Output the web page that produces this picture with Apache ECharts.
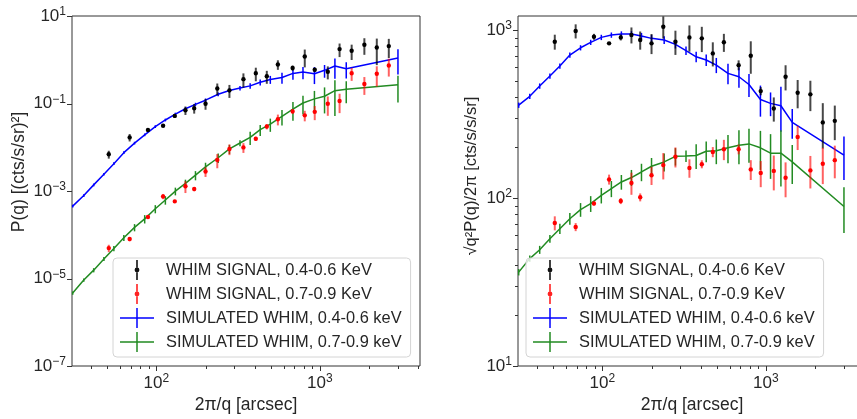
<!DOCTYPE html>
<html>
<head>
<meta charset="utf-8">
<script src="https://cdn.jsdelivr.net/npm/echarts/dist/echarts.min.js"></script>
<style>
  html, body { margin: 0; padding: 0; background: #fff; }
  #chart { width: 857px; height: 419px; }
</style>
</head>
<body>
<div id="chart"></div>
<script>
// angular scales 2pi/q [arcsec]
var simTheta = [30.8, 36, 41.4, 47.8, 55, 63.3, 73.6, 84.9, 98.6, 113.6, 130.8, 150.7, 173.6, 200, 239, 280, 325, 375, 432, 498, 587, 685, 789, 927, 1069, 1237, 1451, 3006];
var obsTheta = [51.2, 68.7, 88.9, 110, 129.7, 150.7, 170.5, 200, 236, 280, 341, 406, 474, 554, 682, 809, 931, 1119, 1321, 1566, 1873, 2231, 2642];

// left panel: P(q)
var blueP = [4.52e-4, 7.87e-4, 1.38e-3, 2.42e-3, 4.21e-3, 7.53e-3, 1.246e-2, 1.926e-2, 2.97e-2, 4.20e-2, 5.73e-2, 7.60e-2, 9.56e-2, 0.119, 0.1625, 0.198, 0.225, 0.253, 0.307, 0.354, 0.393, 0.488, 0.523, 0.479, 0.573, 0.718, 0.626, 1.095];
var blueErrP = [3.3e-5, 5.9e-5, 1.01e-4, 1.73e-4, 3.04e-4, 5.3e-4, 8.9e-4, 1.37e-3, 2.17e-3, 3.06e-3, 4.36e-3, 6.1e-3, 8.3e-3, 0.0112, 0.0168, 0.0222, 0.0262, 0.0365, 0.0482, 0.0733, 0.1096, 0.137, 0.163, 0.201, 0.185, 0.35, 0.253, 0.633];
var greenP = [4.65e-6, 9.22e-6, 1.552e-5, 2.80e-5, 4.87e-5, 8.50e-5, 1.474e-4, 2.31e-4, 3.92e-4, 6.24e-4, 9.94e-4, 1.489e-3, 2.30e-3, 3.57e-3, 5.75e-3, 9.19e-3, 1.252e-2, 1.686e-2, 2.52e-2, 3.38e-2, 5.11e-2, 7.45e-2, 0.1027, 0.1274, 0.1463, 0.196, 0.2118, 0.2678];
var greenErrP = [4.1e-7, 7.6e-7, 1.7e-6, 3.0e-6, 6.8e-6, 1.35e-5, 2.77e-5, 5.0e-5, 8.3e-5, 1.37e-4, 1.99e-4, 3.26e-4, 5.47e-4, 8.55e-4, 1.40e-3, 2.18e-3, 1.97e-3, 5.65e-3, 7.16e-3, 1.13e-2, 1.95e-2, 3.40e-2, 0.0469, 0.0666, 0.087, 0.144, 0.111, 0.1625];
var blackP = [6.9e-3, 1.68e-2, 2.47e-2, 3.1e-2, 5.2e-2, 7.0e-2, 7.8e-2, 9.9e-2, 0.22, 0.2, 0.36, 0.49, 0.42, 0.78, 0.65, 1.19, 0.59, 0.53, 1.75, 1.6, 2.2, 1.9, 2.05];
var blackErrP = [1.41e-3, 3.24e-3, 2.0e-3, 8e-4, 4.3e-3, 1.53e-2, 1.93e-2, 2.71e-2, 0.0664, 0.0658, 0.128, 0.168, 0.138, 0.192, 0.0884, 0.521, 0.0655, 0.174, 0.599, 0.613, 0.904, 1.146, 0.953];
var redP = [4.95e-5, 7.98e-5, 2.54e-4, 7.53e-4, 5.80e-4, 1.285e-3, 1.109e-3, 2.79e-3, 5.14e-3, 9.09e-3, 9.92e-3, 1.559e-2, 2.97e-2, 4.37e-2, 6.62e-2, 5.36e-2, 6.45e-2, 9.85e-2, 0.1138, 0.4896, 0.2798, 0.4768, 0.7366];
var redErrP = [9.5e-6, 8.8e-6, 1.37e-5, 1.03e-4, 4.8e-5, 3.87e-4, 1.21e-4, 6.95e-4, 1.83e-3, 2.48e-3, 2.50e-3, 1.70e-3, 4.1e-3, 1.21e-2, 8.8e-3, 1.45e-2, 2.29e-2, 4.62e-2, 0.0535, 0.161, 0.1226, 0.2324, 0.324];

// right panel: sqrt(q^2 P(q) / 2pi)
var blueR = [357, 403, 464, 532, 610, 709, 784, 845, 904, 933, 946, 946, 921, 892, 872, 822, 755, 693, 663, 618, 552, 527, 474, 386, 366, 354, 282, 180];
var blueErrR = [13, 15, 17, 19, 22, 25, 28, 30, 33, 34, 36, 38, 40, 42, 45, 46, 44, 50, 52, 64, 77, 74, 74, 81, 59, 106, 57, 52];
var greenR = [36.2, 43.6, 49.2, 57.2, 65.6, 75.3, 85.3, 92.6, 103.8, 113.7, 124.6, 132.4, 142.9, 154.5, 164, 177, 178, 179, 190, 191, 199, 206, 210, 199, 185, 185, 164, 89];
var greenErrR = [1.6, 1.8, 2.7, 3.1, 4.6, 6, 8, 10, 11, 12.5, 12.5, 14.5, 17, 18.5, 20, 21, 14, 30, 27, 32, 38, 47, 48, 52, 55, 68, 43, 27];
var blackR = [851, 986, 912, 833, 904, 934, 872, 833, 1047, 851, 904, 892, 726, 845, 618, 703, 433, 341, 527, 423, 414, 282, 288];
var blackErrR = [87, 95, 37, 11, 37, 102, 108, 114, 158, 140, 161, 153, 119, 104, 42, 154, 24, 56, 90, 81, 85, 85, 67];
var redR = [71, 67.2, 92.7, 129, 96, 123, 101, 136.5, 157, 176, 151, 159, 188, 195, 195, 148, 141, 145, 132, 231, 146, 160, 168];
var redErrR = [6.8, 3.7, 2.5, 8.8, 4, 18.5, 5.5, 17, 28, 24, 19, 8.7, 13, 27, 13, 20, 25, 34, 31, 38, 32, 39, 37];

// ticks
var xMajorTicks = [100, 1000];
var xMinorTicks = [40, 50, 60, 70, 80, 90, 200, 300, 400, 500, 600, 700, 800, 900, 2000, 3000, 4000];
var leftYTicks = [1e-7, 1e-5, 1e-3, 1e-1, 10];
var rightYTicks = [10, 100, 1000];
var rightYMinorTicks = [20, 30, 40, 50, 60, 70, 80, 90, 200, 300, 400, 500, 600, 700, 800, 900];

var names = ['WHIM SIGNAL, 0.4-0.6 KeV', 'WHIM SIGNAL, 0.7-0.9 KeV', 'SIMULATED WHIM, 0.4-0.6 keV', 'SIMULATED WHIM, 0.7-0.9 keV'];
var FONT = 'Liberation Sans, Arial, sans-serif';
var TXT = '#262626';

function pairs(xs, ys) {
    return xs.map(function (x, i) { return [x, ys[i]]; });
}
function triples(xs, ys, es) {
    return xs.map(function (x, i) { return [x, ys[i], es[i]]; });
}

function logLabel(odd) {
    return function (v) {
        var e = Math.round(Math.log10(v));
        if (Math.abs(Math.log10(v) - e) > 1e-6) return '';
        if (odd && Math.abs(e % 2) !== 1) return '';
        return '{b|10}{s|' + String(e).replace('-', '\u2212') + '}';
    };
}
var richLabel = {
    b: {fontSize: 17, lineHeight: 20, verticalAlign: 'middle', color: TXT, fontFamily: FONT},
    s: {fontSize: 12, lineHeight: 8, verticalAlign: 'top', color: TXT, fontFamily: FONT}
};

function errorSeries(name, gi, data, color, width, dot, z) {
    return {
        name: name,
        type: 'custom',
        xAxisIndex: gi,
        yAxisIndex: gi,
        z: z,
        itemStyle: {color: dot || color},
        encode: {x: 0, y: 1},
        data: data,
        renderItem: function (params, api) {
            var cs = params.coordSys;
            var x = api.value(0), y = api.value(1), e = api.value(2);
            var p0 = api.coord([x, y + e]);
            var p1 = y - e > 0 ? api.coord([x, y - e]) : [p0[0], cs.y + cs.height];
            var kids = [{
                type: 'line',
                shape: {x1: p0[0], y1: p0[1], x2: p1[0], y2: Math.min(p1[1], cs.y + cs.height)},
                style: {stroke: color, lineWidth: width}
            }];
            if (dot) {
                var c = api.coord([x, y]);
                kids.push({type: 'circle', shape: {cx: c[0], cy: c[1], r: 2.2}, style: {fill: dot}});
            }
            return {type: 'group', children: kids};
        }
    };
}

function lineSeries(name, gi, data, color) {
    return {
        name: name,
        type: 'line',
        xAxisIndex: gi,
        yAxisIndex: gi,
        z: 2,
        color: color,
        symbol: 'none',
        showSymbol: false,
        lineStyle: {color: color, width: 1.5},
        itemStyle: {color: color},
        data: data
    };
}

function tickSeries(gi, values, dir, len, refOther) {
    return {
        type: 'custom',
        xAxisIndex: gi,
        yAxisIndex: gi,
        silent: true,
        z: 6,
        encode: {x: 0, y: 1},
        data: values.map(function (v) { return dir === 'x' ? [v, refOther] : [refOther, v]; }),
        renderItem: function (params, api) {
            var cs = params.coordSys;
            var p = api.coord([api.value(0), api.value(1)]);
            var shape;
            if (dir === 'x') {
                var yb = cs.y + cs.height;
                var px = Math.round(p[0]) + 0.5;
                shape = {x1: px, y1: yb, x2: px, y2: yb + len};
            } else {
                var py = Math.round(p[1]) + 0.5;
                shape = {x1: cs.x, y1: py, x2: cs.x - len, y2: py};
            }
            return {type: 'line', shape: shape, style: {stroke: '#333', lineWidth: 1}};
        }
    };
}

var pathDot = 'path://M4.2,0h1.6v7.6h-1.6z M2.6,10a2.4,2.4 0 1,0 4.8,0a2.4,2.4 0 1,0 -4.8,0z M4.2,12.4h1.6v7.6h-1.6z';
var pathCross = 'path://M0,9.25h16.25v1.5h-16.25z M17.75,9.25h16.25v1.5h-16.25z M16.25,0h1.5v20h-1.5z';

function legendFor(left) {
    return {
        left: left,
        top: 258,
        orient: 'vertical',
        itemWidth: 34,
        itemHeight: 20,
        itemGap: 4,
        padding: [2, 9, 5, 7],
        backgroundColor: 'rgba(255,255,255,0.8)',
        borderColor: '#d4d4d4',
        borderWidth: 1,
        borderRadius: 4,
        selectedMode: false,
        textStyle: {fontSize: 16.4, color: TXT, fontFamily: FONT, padding: [0, 0, 0, 7]},
        data: [
            {name: names[0], icon: pathDot, itemStyle: {color: '#111'}},
            {name: names[1], icon: pathDot, itemStyle: {color: '#f22'}},
            {name: names[2], icon: pathCross, itemStyle: {color: '#0000ff'}},
            {name: names[3], icon: pathCross, itemStyle: {color: '#228b22'}}
        ]
    };
}

var xAxisBase = {
    type: 'log',
    min: 30.5,
    max: 4100,
    axisLine: {show: false},
    axisTick: {show: false},
    splitLine: {show: false},
    minorTick: {show: false},
    axisLabel: {formatter: logLabel(false), rich: richLabel, margin: 7},
    name: '2\u03c0/q [arcsec]',
    nameLocation: 'middle',
    nameGap: 30,
    nameTextStyle: {fontSize: 17.5, color: TXT, fontFamily: FONT}
};

var chart = echarts.init(document.getElementById('chart'), null, {renderer: 'canvas'});
var option = {
    animation: false,
    textStyle: {fontFamily: FONT},
    grid: [
        {left: 72, top: 16, width: 348, height: 350, outerBoundsMode: 'none', containLabel: false,
            show: true, borderColor: '#333', borderWidth: 1},
        {left: 518, top: 16, width: 348, height: 350, outerBoundsMode: 'none', containLabel: false,
            show: true, borderColor: '#333', borderWidth: 1}
    ],
    xAxis: [
        Object.assign({gridIndex: 0}, xAxisBase),
        Object.assign({gridIndex: 1}, xAxisBase)
    ],
    yAxis: [
        {
            gridIndex: 0,
            type: 'log',
            min: 1e-7,
            max: 10,
            axisLine: {show: false},
            axisTick: {show: false},
            splitLine: {show: false},
            axisLabel: {formatter: logLabel(true), rich: richLabel, margin: 6},
            name: 'P(q) [(cts/s/sr)\u00b2]',
            nameLocation: 'middle',
            nameGap: 44,
            nameTextStyle: {fontSize: 17.5, color: TXT, fontFamily: FONT, padding: [0, 0, 0, 38]}
        },
        {
            gridIndex: 1,
            type: 'log',
            min: 10,
            max: 1212,
            axisLine: {show: false},
            axisTick: {show: false},
            splitLine: {show: false},
            axisLabel: {formatter: logLabel(false), rich: richLabel, margin: 6},
            name: '\u221aq\u00b2P(q)/2\u03c0 [cts/s/s/sr]',
            nameLocation: 'middle',
            nameGap: 38,
            nameTextStyle: {fontSize: 16.5, color: TXT, fontFamily: FONT, padding: [0, 0, 0, 30]}
        }
    ],
    legend: [legendFor(113), legendFor(526)],
    series: [
        lineSeries(names[2], 0, pairs(simTheta, blueP), '#0000ff'),
        errorSeries(names[2], 0, triples(simTheta, blueP, blueErrP), '#0000ff', 1.5, null, 2),
        lineSeries(names[3], 0, pairs(simTheta, greenP), '#228b22'),
        errorSeries(names[3], 0, triples(simTheta, greenP, greenErrP), '#228b22', 1.5, null, 2),
        errorSeries(names[0], 0, triples(obsTheta, blackP, blackErrP), 'rgba(0,0,0,0.72)', 2, '#000', 3),
        errorSeries(names[1], 0, triples(obsTheta, redP, redErrP), 'rgba(255,0,0,0.62)', 2, '#f00', 3),

        lineSeries(names[2], 1, pairs(simTheta, blueR), '#0000ff'),
        errorSeries(names[2], 1, triples(simTheta, blueR, blueErrR), '#0000ff', 1.5, null, 2),
        lineSeries(names[3], 1, pairs(simTheta, greenR), '#228b22'),
        errorSeries(names[3], 1, triples(simTheta, greenR, greenErrR), '#228b22', 1.5, null, 2),
        errorSeries(names[0], 1, triples(obsTheta, blackR, blackErrR), 'rgba(0,0,0,0.72)', 2, '#000', 3),
        errorSeries(names[1], 1, triples(obsTheta, redR, redErrR), 'rgba(255,0,0,0.62)', 2, '#f00', 3),

        tickSeries(0, xMajorTicks, 'x', 5, 1),
        tickSeries(0, xMinorTicks, 'x', 3, 1),
        tickSeries(0, leftYTicks, 'y', 5, 100),
        tickSeries(1, xMajorTicks, 'x', 5, 100),
        tickSeries(1, xMinorTicks, 'x', 3, 100),
        tickSeries(1, rightYTicks, 'y', 5, 100),
        tickSeries(1, rightYMinorTicks, 'y', 3, 100)
    ]
};
chart.setOption(option);
</script>
</body>
</html>
